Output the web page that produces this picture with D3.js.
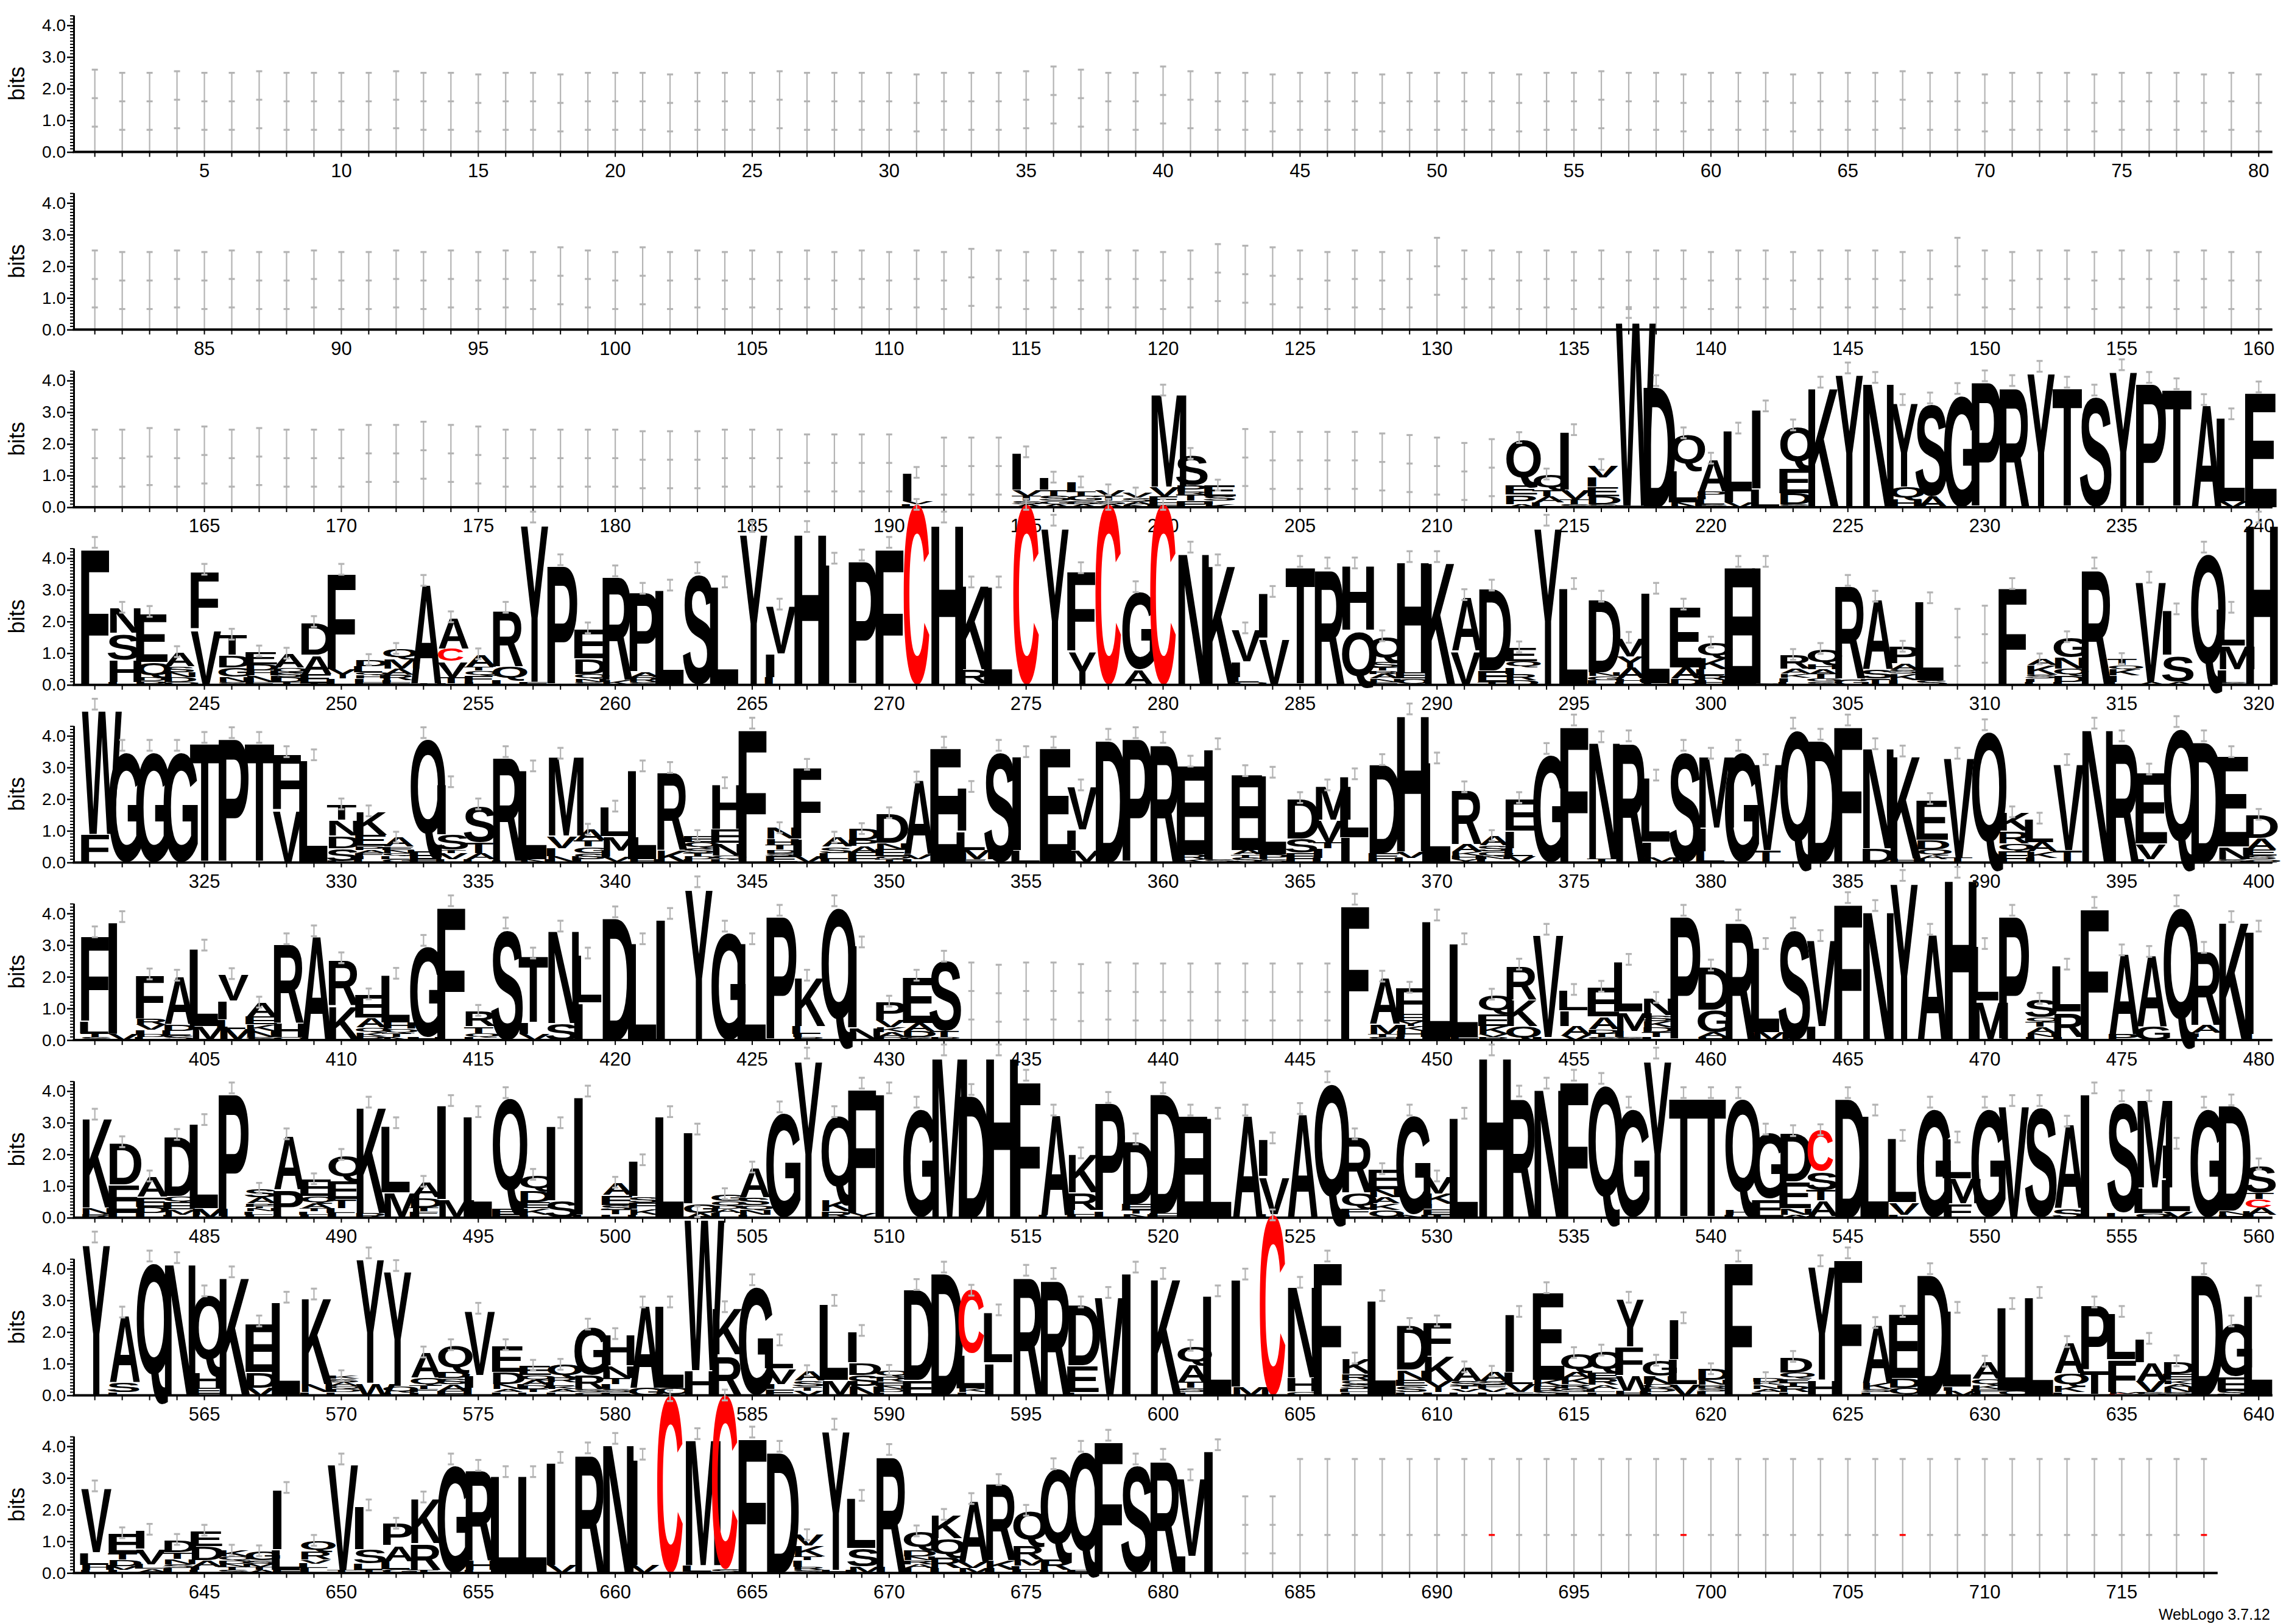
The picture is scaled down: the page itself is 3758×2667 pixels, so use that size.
<!DOCTYPE html>
<html>
<head>
<meta charset="utf-8">
<script src="https://cdn.jsdelivr.net/npm/d3@7"></script>
<style>
  body { margin: 0; background: #fff; }
  text { font-family: "Liberation Sans", Arial, sans-serif; }
</style>
</head>
<body>
<svg id="chart"></svg>
<script>
// Sequence logo, 718 positions in 9 lines of 80 stacks.
// Stacks are written bottom -> top as "<letter><bits>".
// "|top" is an empty column (error bar only), "|top@mid" gives its middle mark too, a trailing "r" marks it red.

const rowStarts = [1, 81, 161, 241, 321, 401, 481, 561, 641];
const yTicks = [0, 1, 2, 3, 4];

// lines 1 and 2 only have empty columns: top of the error bar, in bits
const row1Tops = [2.6, 2.5, 2.5, 2.55, 2.5, 2.5, 2.55, 2.5, 2.5, 2.5, 2.5, 2.55, 2.5, 2.5, 2.45, 2.5, 2.5, 2.45, 2.5, 2.5,
  2.5, 2.45, 2.5, 2.5, 2.5, 2.55, 2.5, 2.5, 2.5, 2.5, 2.45, 2.5, 2.5, 2.5, 2.55, 2.7, 2.6, 2.5, 2.5, 2.7,
  2.55, 2.5, 2.5, 2.45, 2.5, 2.5, 2.5, 2.45, 2.5, 2.5, 2.5, 2.5, 2.45, 2.5, 2.5, 2.55, 2.5, 2.5, 2.45, 2.5,
  2.5, 2.5, 2.45, 2.5, 2.5, 2.5, 2.55, 2.5, 2.5, 2.45, 2.5, 2.5, 2.5, 2.45, 2.5, 2.5, 2.5, 2.45, 2.5, 2.45];
const row2Tops = [2.5, 2.45, 2.45, 2.5, 2.45, 2.5, 2.45, 2.45, 2.5, 2.45, 2.45, 2.5, 2.45, 2.5, 2.45, 2.5, 2.45, 2.6, 2.5, 2.45,
  2.6, 2.45, 2.5, 2.45, 2.5, 2.45, 2.5, 2.45, 2.5, 2.45, 2.5, 2.45, 2.55, 2.5, 2.45, 2.5, 2.45, 2.5, 2.5, 2.45,
  2.5, 2.7, 2.65, 2.6, 2.5, 2.45, 2.5, 2.45, 2.5, 2.9, 2.5, 2.5, 2.45, 2.5, 2.45, 2.5, 2.45, 2.5, 2.5, 2.45,
  2.5, 2.5, 2.45, 2.5, 2.5, 2.5, 2.45, 2.5, 2.9, 2.5, 2.45, 2.5, 2.5, 2.45, 2.5, 2.5, 2.45, 2.5, 2.45, 2.45];

const row3Stacks = [
  "|2.45", "|2.45", "|2.5", "|2.45", "|2.55", "|2.45", "|2.5", "|2.45", "|2.45", "|2.45",
  "|2.6", "|2.6", "|2.7", "|2.6", "|2.55", "|2.45", "|2.45", "|2.45", "|2.45", "|2.45",
  "|2.4", "|2.4", "|2.4", "|2.45", "|2.45", "|2.45", "|2.3", "|2.3", "|2.3", "|2.3",
  "L.1 V.1 I.9", "|2.2", "|2.2", "|2.2", "A.1 S.1 T.15 V.2 I1.2", "A.1 G.1 S.15 T.2 I.4", "A.1 S.1 G.15 T.15 I.3", "A.1 S.1 T.15 V.2",
  "N.08 A.1 S.12 V.15", "E.15 F.2 V.3 M3.05", "E.2 T.2 R.1 P.2 S1.0", "K.1 I.1 S.15 E.35",
  "|2.47", "|2.38", "|2.38", "|2.38", "|2.38", "|2.33", "|2.28", "|2.2", "|2.03", "|2.15",
  "A.1 P.3 E.3 Q1.5", "L.15 A.2 T.2 Q.5", "S.1 T.15 V.3 I1.9", "S.1 D.25 E.3 I.3 V.4", "F.05 W6.1",
  "D4.0", "N.15 L1.05 Q1.15", "S.1 L.15 I.1 P.15 A1.05", "V.15 I.35 L2.0", "L.6 I2.6",
  "S.1 D.35 E.8 Q1.35", "K3.95", "Y4.4", "N4.1", "H.25 Q.4 Y2.75", "A.35 S3.1", "G3.75", "P4.15",
  "R4.0", "Y4.45", "T3.95", "S3.7", "Y4.5", "P4.1", "T3.9", "A3.4", "V.2 L2.75", "E3.8"
];

const row4Stacks = [
  "F4.5", "I.1 H.7 S.85 N.8", "P.12 D.12 Q.48 E1.6", "Q.1 D.15 N.15 S.2 A.45", "V1.8 F1.85",
  "S.1 N.15 G.3 D.4 T.65", "F.1 N.2 H.15 D.2 E.42", "T.1 D.15 S.15 Q.15 A.45", "T.05 E.3 A.6 D1.05", "L.2 Y.3 F3.15",
  "F.1 I.1 H.1 Q.1 L.2 D.2", "F.1 I.05 R.17 A.2 M.3 Q.33", "T.05 A3.25", "I.05 T.2 V.5 C.4 A1.0", "I.1 F.2 Q.15 T.13 A.4",
  "I.15 Q.45 R1.85", "F.1 Y5.2", "P3.95", "S.1 N.1 Q.15 D.5 E.95", "K.15 R3.45",
  "S.1 R.15 A.15 P2.65", "L3.15", "S3.7", "L3.25", "Y5.0",
  "L.25 I.75 V1.55", "H5.0", "I4.0", "P4.1", "F4.5",
  "C5.7", "H5.3", "I.05 R.45 K2.75", "L3.25", "C5.7",
  "Y5.2", "Y1.1 F2.6", "C5.7", "A.5 G2.6", "C5.7",
  "N4.35", "K3.95", "Q.1 L.15 I.5 V1.05", "V1.5 I1.45", "T3.9",
  "R3.85", "Q1.75 H2.1", "E.1 N.1 A.15 R.1 T.1 S.2 Q.8", "Q.2 E.2 H3.65", "K4.05",
  "V1.1 A1.75", "T.1 E.35 D2.7", "D.15 R.2 I.2 Q.2 E.45", "Y5.2", "L3.2",
  "I.15 G.13 N.12 D2.4", "I.1 H.1 A.35 Y.35 V.6", "H.05 L3.0", "D.2 A.35 E2.0", "H.15 R.15 L.2 K.35 Q.5",
  "E3.9", "S.05 I3.85", "L.1 I.13 K.13 A.15 R.45", "S.1 G.1 T.15 A.15 H.15 Q.5", "G.2 R3.1",
  "T.2 S.3 A2.3", "I.15 K.2 S.12 A.2 P.55", "S.15 L2.6", "|2.4", "|2.5",
  "F3.2", "L.1 I.1 S.12 K.3 A.2", "I.1 D.2 Q.22 N.35 G.65", "R3.85", "L.1 I.2 K.2 Q.13 T.2",
  "A.1 V3.3", "A.1 S.85 I1.45", "Q4.35", "S.1 I.4 M.75 L1.2", "H5.3"
];

const row5Stacks = [
  "F.9 W4.1", "G3.7", "G3.7", "G3.7", "T3.95", "P4.1", "T3.95", "V1.7 F1.8", "L3.4", "I.05 S.4 D.4 N.5 T.5",
  "L.1 I.1 F.1 A.1 P.13 E.35 K.75", "G.1 L.1 Q.1 N.1 E.1 A.3", "F.1 E.25 Q3.75", "L.1 V.2 T.1 S.5 I1.65", "L.1 A.2 T.35 S1.2",
  "I.05 R3.45", "N.1 L2.95", "N.2 I.25 V.4 M2.6", "L.1 S.2 G.2 T.2 A.35", "C.03 V.15 I.2 M.45 L.95",
  "H.1 L2.95", "K.4 R2.6", "I.1 D.1 T.1 S.15 Q.2 E.2", "I.1 Q.12 N.4 E.45 H1.45", "F4.4",
  "E.2 S.1 D.1 T.15 H.2 N.35", "V.2 I.55 F2.35", "I.1 L.2 S.2 A.3", "I.1 E.22 A.2 P.2 D.35", "T.1 Q.1 E.22 N.2 D.95",
  "I.1 V.15 A2.45", "E3.8", "F.1 M.3 L.6 I1.4", "S3.7", "L.4 I3.1",
  "E3.8", "M.4 I.65 V1.4", "D4.05", "P4.1", "R3.95",
  "K.1 R.15 E2.95", "S.1 I3.65", "S.15 T.1 A.15 E2.5", "S.1 P.15 L2.6", "I.1 E.2 S.45 D1.3",
  "L.15 I.3 T.2 V.7 M1.1", "I.8 L2.0", "I.1 E.2 D2.95", "L.15 V.2 H4.5", "L3.3",
  "Y.1 H.12 K.12 A.25 R1.8", "L.1 N.1 Q.15 S.2 A.3", "V.2 L.25 I.55 E1.05", "G3.6", "F4.5",
  "T.12 N3.85", "R4.0", "M.16 I.5 L2.1", "S3.7", "L.35 I.75 M2.35",
  "G3.7", "T.4 V2.85", "Q4.4", "D4.05", "F4.5",
  "D.45 N3.3", "H.12 K3.4", "I.1 A.12 Q.2 D.3 E1.3", "T.15 V3.3", "Q4.35",
  "I.1 E.25 Q.25 R.4 K.6", "I.15 K.2 A.3 L.75", "T.4 V2.85", "N4.4", "R4.0",
  "I.1 V.5 E2.35", "Q4.45", "D4.0", "S.1 N.4 E3.0", "Q.1 S.12 E.2 A.35 D.75"
];

const row6Stacks = [
  "S.1 T.12 L.4 F2.8", "V.2 I3.7", "L.1 D.1 I.12 V.17 R.2 F1.4", "S.15 L.15 D.2 A1.55", "M.45 L2.55",
  "M.35 L.3 I.6 V.85", "S.1 N.2 K.2 E.25 A.45", "Q.1 H.45 R2.65", "A3.45", "K1.1 R1.5",
  "P.12 K.13 Q.16 A.3 E.75", "N.1 T.13 Q.13 H.2 L1.55", "H.1 G3.05", "F4.4", "I.1 Q.12 T.22 R.5",
  "S3.7", "V.2 I.35 T2.2", "S.55 N3.05", "I1.2 L1.55", "D4.05",
  "L3.2", "I4.0", "Y5.0", "G3.6", "L3.2",
  "P4.1", "R.1 I.1 L.25 K1.6", "Q4.4", "N.4 I2.7", "D.1 A.15 K.15 V.23 P.6",
  "S.1 D.2 A.25 E1.5", "R.1 T.2 S2.35",
  "|2.45", "|2.38", "|2.45", "|2.45", "|2.4", "|2.45", "|2.42", "|2.42", "|2.42", "|2.42", "|2.42", "|2.42", "|2.42", "|2.42",
  "F4.45", "S.1 T.1 M.32 A1.5", "I.1 H.2 K.15 Y.15 E.22 F.85", "L3.95", "F.1 L3.1",
  "R.1 V.1 K.25 E.4 Q.6", "Q.45 K.85 R1.1", "I.1 V3.4", "V.15 A.3 I.5 L.65", "S.1 T.12 D.13 A.4 E.95",
  "S.1 I.2 M.6 L1.65", "I.1 T.15 D.15 K.2 S.2 N.55", "P4.1", "H.1 A.15 G.72 D1.4", "R3.95",
  "M.25 L2.8", "S3.7", "I.45 V2.85", "F4.5", "N4.25",
  "Y5.2", "A3.5", "H5.3", "M1.25 L1.8", "P4.1",
  "I.1 N.12 A.2 T.15 Q.15 S.6", "I.1 R.8 L1.5", "F4.35", "P.2 A2.65", "G.45 A2.35",
  "Q4.4", "L.1 I.13 A.25 R2.45", "K3.9", "L.2 I3.4"
];

const row7Stacks = [
  "R.12 N.2 K2.95", "I.15 E.9 D1.35", "I.15 D.2 E.32 A.65", "I.1 M.16 E.22 Q.2 D1.95", "M.3 L2.8",
  "P4.1", "I.1 L.1 N.1 T.05 P.1 A.2 S.28", "I.05 P.85 A1.75", "I.1 L.1 T.1 A.16 Q.22 E.55", "I.15 L.15 T.3 E.6 Q.8",
  "R.15 K3.5", "M.8 L2.2", "I.1 F.1 T.13 D.32 A.5", "M.6 I3.1", "L3.35",
  "F.1 E.2 Q3.65", "I.1 K.2 E.2 D.35 Q.52", "S.55 I2.45", "L.1 I3.9", "I.1 T.15 S.15 E.32 A.4",
  "L.1 K.18 F.2 S.2 I1.15", "L3.35", "A.15 G.3 I2.35", "I.15 A.13 D.1 Q.16 G.22", "I.1 N.15 Q.15 S.25 A.95",
  "G3.5", "Y5.2", "R.2 K.35 Q2.8", "Y.15 F4.1", "I4.1",
  "G3.65", "M5.3", "D4.05", "H5.3", "F4.5",
  "L.1 A3.3", "I.1 L.15 R.55 K1.25", "I.2 P3.6", "N.12 T.12 E.2 D2.05", "E.15 D3.95",
  "E3.4", "L3.3", "A3.4", "L.12 V1.2 I1.2", "A3.45",
  "Q4.45", "I.1 F.2 Q.5 R1.85", "Q.25 K.2 A.2 N.25 E.65", "N.1 G3.3", "T.1 E.18 I.16 K.33 V.55",
  "L3.3", "H5.3", "R4.0", "N4.25", "F4.5",
  "Q4.4", "G3.65", "Y5.2", "T3.95", "T3.95",
  "I.1 H.15 Q3.7", "E.6 G2.2", "A.1 N.2 E.85 D1.6", "I.05 A.5 T.33 S.6 C1.3", "D3.95",
  "L3.4", "I.1 V.4 L2.1", "G3.65", "F.45 M.8 L1.3", "G3.65",
  "V3.7", "S3.7", "S.3 A2.75", "I4.1", "L.15 S3.7",
  "Q.15 L.8 M2.9", "V.2 L1.05 I1.1", "G3.65", "H.1 N.12 D3.5", "I.1 A.22 C.26 T.22 S.9"
];

const row8Stacks = [
  "Y5.0", "I.1 S.33 A2.2", "Q4.4", "N4.35", "I.05 E.2 H.5 Q2.55",
  "K3.9", "V.25 D.5 E1.6", "L3.1", "I.1 N.25 K2.85", "L.1 D.1 Q.1 A.12 S.1 K.1",
  "W.4 Y4.1", "I.1 Q.2 Y3.8", "I.1 F.1 T.12 Q.25 A.8", "F.15 A.2 S.2 D.2 Q.85", "L.25 I.4 V2.1",
  "I.1 A.1 N.15 D.4 E.85", "L.1 T.1 D.13 A.16 Q.16 E.3", "I.1 A.1 K.1 L.12 R.16 Q.4", "Q.1 S.1 R.45 G1.6", "E.1 S.1 I.15 T.2 N.4 H1.0",
  "G.25 A2.7", "Q.25 L2.7", "H.8 W5.0", "R1.3 K1.5", "G3.65",
  "F.2 I.15 V.5 L.9", "V.15 T.13 S.2 A.3", "M.5 L2.5", "N.3 S.35 D.4 I1.0", "I.1 D.1 N.1 E.13 R.16 Q.2",
  "E.5 D3.0", "D4.05", "I.1 K.12 L1.1 C2.0", "I1.05 L1.65", "R3.95",
  "R3.85", "L.1 E.85 D2.0", "V3.25", "I4.05", "K3.85",
  "I.1 S.13 T.2 A.55 Q.6", "L3.3", "M.28 I3.55", "C5.7", "Q.12 H.45 N3.0",
  "F4.4", "I.1 L.1 S.15 Q.13 R.2 K.5", "L3.15", "I.1 S.2 E.2 N.32 D1.45", "I.1 Y.35 K.8 F1.1",
  "L.1 V.1 T.1 S.15 A.45", "I.1 V.12 F.12 S.12 A.3", "F.1 V.25 L.4 I1.9", "S.15 R.15 K.2 E2.9", "I.1 S.12 R.13 K.2 A.2 Q.6",
  "I.1 L.1 A.13 R.2 E.2 Q.7", "H.15 W.5 F.9 Y1.55", "I.1 D.13 Q.13 N.25 G.5", "V.35 L.8 I1.3", "C.03 I.1 S.1 R.1 N.16 D.35",
  "F4.4", "I.1 A.1 N.13 K.1 D.13", "I.1 R.2 T.1 E.13 Q.2 D.5", "H.5 Y3.75", "F4.5",
  "I.1 S.1 K.2 A1.9", "Q.25 D.3 E2.1", "D4.0", "M.15 I.13 L2.5", "I.1 E.1 K.13 Q.2 A.55",
  "Q.15 L2.75", "L3.25", "I.1 K.2 Q.4 A1.0", "C.03 T.77 P2.15", "C.05 M.05 F1.05 L1.5",
  "S.1 V.35 A.6 I.75", "S.1 N.16 A.1 K.13 E.2 D.4", "D4.0", "S.15 E.45 G1.75", "L3.3"
];

const row9Stacks = [
  "I.1 H.15 L.4 V2.1", "I.1 V.12 D.2 T.2 E.65", "C.03 A.1 L.15 V.5 I.6", "I.15 S.13 N.16 T.22 D.4", "L.1 I.1 A.2 D.45 E.5",
  "S.1 T.1 N.1 D.1 Q.12 K.2", "A.1 T.1 V.1 S.1 G.3", "F.1 L.65 I1.95", "I.15 L.15 V.13 R.25 Q.35", "T.1 V3.5",
  "T.1 L.2 S.45 I1.4", "G.12 L.25 A.5 P.7", "T.1 R.85 K1.45", "G3.6", "I.1 H.3 R3.0",
  "L3.2", "L3.2", "V.25 I3.4", "R3.95", "N4.25",
  "V.25 I3.5", "C5.6", "S.05 L.2 M4.15", "S.12 C5.5", "F4.45",
  "D4.0", "S.1 R.1 I.2 T.13 K.33 V.35", "H.1 Y4.6", "M.2 S.6 L1.65", "R3.9",
  "I.15 A.12 R.13 N.13 D.2 Q.6", "I.15 R.35 Q.6 K.75", "M.15 V.2 A2.0", "I.1 K.3 R2.55", "I.1 L.13 M.2 R.45 Q1.1",
  "I.1 R.35 Q3.0", "F.1 Q3.9", "F4.35", "S3.6", "R3.75",
  "I.55 V2.55", "I4.05",
  "|2.42", "|2.42", "|3.6@1.2", "|3.6@1.2", "|3.6@1.2", "|3.6@1.2", "|3.6@1.2", "|3.6@1.2", "|3.6@1.2", "|3.6@1.2r",
  "|3.6@1.2", "|3.6@1.2", "|3.6@1.2", "|3.6@1.2", "|3.6@1.2", "|3.6@1.2", "|3.6@1.2r", "|3.6@1.2", "|3.6@1.2", "|3.6@1.2",
  "|3.6@1.2", "|3.6@1.2", "|3.6@1.2", "|3.6@1.2", "|3.6@1.2r", "|3.6@1.2", "|3.6@1.2", "|3.6@1.2", "|3.6@1.2", "|3.6@1.2",
  "|3.6@1.2", "|3.6@1.2", "|3.6@1.2", "|3.6@1.2", "|3.6@1.2", "|3.6@1.2r"
];

const rows = [row1Tops.map(v => "|" + v), row2Tops.map(v => "|" + v), row3Stacks, row4Stacks,
  row5Stacks, row6Stacks, row7Stacks, row8Stacks, row9Stacks];

// ---- layout ----
const W = 3758, H = 2667;
const firstAxisY = 249.6, rowStep = 291.7;
const bitPx = 52, yMax = 4.32;
const plotLeft = 133.2, colW = 44.97, spineX = 121;
const letterFill = 0.94;
const errColor = '#b4b4b4';

function parseStack(s) {
  if (s[0] === '|') {
    const red = s.endsWith('r');
    const [top, mid] = s.slice(1).replace('r', '').split('@').map(Number);
    return { gap: top, mid: mid === undefined ? top - 0.9 : mid, red, letters: [] };
  }
  return {
    letters: s.trim().split(/\s+/).map(t => ({ ch: t[0], bits: +t.slice(1) }))
  };
}

// logo glyphs: a monospaced sans face, stretched to fill each box
// (C takes the proportional face, whose open mouth reads better once squeezed)
const monoFamily = '"DejaVu Sans Mono"';
const sansFamily = '"Liberation Sans"';
const familyFor = ch => ch === 'C' ? sansFamily : monoFamily;
const ctx = document.createElement('canvas').getContext('2d');
const glyphCache = {};
function glyph(ch) {
  if (!glyphCache[ch]) {
    ctx.font = 'bold 100px ' + familyFor(ch);
    const m = ctx.measureText(ch);
    glyphCache[ch] = {
      l: m.actualBoundingBoxLeft, r: m.actualBoundingBoxRight,
      a: m.actualBoundingBoxAscent, d: m.actualBoundingBoxDescent
    };
  }
  return glyphCache[ch];
}

function draw() {
  const svg = d3.select('#chart').attr('width', W).attr('height', H);
  svg.append('rect').attr('width', W).attr('height', H).attr('fill', '#fff');

  rows.forEach((stacks, r) => {
    const start = rowStarts[r];
    const positions = d3.range(start, start + stacks.length);
    const axisY = firstAxisY + r * rowStep;
    const x = d3.scaleBand().domain(positions).range([plotLeft, plotLeft + stacks.length * colW]);
    const y = d3.scaleLinear().domain([0, yMax]).range([axisY, axisY - yMax * bitPx]);
    const g = svg.append('g');
    const data = stacks.map((s, i) => ({ pos: positions[i], ...parseStack(s) }));

    // letters
    const lg = g.append('g');
    data.forEach(col => {
      let base = 0;
      const w = x.bandwidth() * letterFill;
      const xl = x(col.pos) + (x.bandwidth() - w) / 2;
      col.letters.forEach(L => {
        const yb = y(base), yt = y(base + L.bits);
        const h = yb - yt;
        base += L.bits;
        if (h < 0.3) return;
        const m = glyph(L.ch);
        const sx = w / (m.l + m.r), sy = h / (m.a + m.d);
        lg.append('text')
          .attr('transform', `translate(${xl + m.l * sx},${yb - m.d * sy}) scale(${sx},${sy})`)
          .attr('font-size', 100)
          .attr('font-family', familyFor(L.ch))
          .attr('font-weight', 'bold')
          .attr('fill', L.ch === 'C' ? '#ff0000' : '#000')
          .text(L.ch);
      });
      col.total = base;
    });

    // error bars
    const eg = g.append('g').attr('stroke', errColor);
    data.forEach(col => {
      const cx = x(col.pos) + x.bandwidth() / 2;
      let lo, hi, marks;
      if (col.letters.length === 0) {
        hi = col.gap; lo = 0;
        const low = 2 * col.mid - col.gap;
        marks = [col.gap, col.mid].concat(low > 0 ? [low] : []);
      } else {
        hi = col.total + 0.17; lo = Math.max(0, col.total - 0.17);
        marks = [hi, lo];
      }
      eg.append('line').attr('x1', cx).attr('x2', cx).attr('y1', y(lo)).attr('y2', y(hi))
        .attr('stroke-width', 2.2);
      marks.forEach((v, k) => {
        eg.append('line').attr('x1', cx - 5).attr('x2', cx + 5).attr('y1', y(v)).attr('y2', y(v))
          .attr('stroke', col.red && k === 1 ? '#ff0000' : null)
          .attr('stroke-width', 3.2);
      });
    });

    // x axis
    const xAxis = d3.axisBottom(x).tickSize(8).tickSizeOuter(0)
      .tickFormat(d => d % 5 === 0 ? d : '');
    const xg = g.append('g').attr('transform', `translate(0,${axisY})`).call(xAxis);
    xg.select('.domain').remove();
    xg.selectAll('.tick line').attr('stroke', '#000').attr('stroke-width', 2);
    xg.selectAll('.tick text').attr('font-size', 31).attr('y', 12).attr('dy', '0.95em')
      .attr('fill', '#000').attr('font-family', '"Liberation Sans", Arial, sans-serif');
    g.append('line').attr('x1', spineX - 1.5).attr('x2', x.range()[1])
      .attr('y1', axisY).attr('y2', axisY).attr('stroke', '#000').attr('stroke-width', 4);

    // y axis
    const yAxis = d3.axisLeft(y).tickValues(yTicks).tickSize(11).tickSizeOuter(0)
      .tickFormat(d3.format('.1f'));
    const yg = g.append('g').attr('transform', `translate(${spineX},0)`).call(yAxis);
    yg.select('.domain').attr('stroke-width', 3);
    yg.selectAll('.tick line').attr('stroke-width', 2.5);
    yg.selectAll('.tick text').attr('font-size', 28).attr('x', -13)
      .attr('font-family', '"Liberation Sans", Arial, sans-serif');
    const minor = d3.range(1, 44).map(k => k / 10).filter(v => Math.abs(v - Math.round(v)) > 0.01);
    yg.selectAll('.minor').data(minor).join('line')
      .attr('x1', -6).attr('x2', 0).attr('y1', d => y(d)).attr('y2', d => y(d))
      .attr('stroke', '#000').attr('stroke-width', 2);

    g.append('text')
      .attr('transform', `translate(40,${y(yMax / 2)}) rotate(-90)`)
      .attr('text-anchor', 'middle')
      .attr('font-size', 36)
      .text('bits');
  });

  svg.append('text')
    .attr('x', 3727).attr('y', 2660)
    .attr('text-anchor', 'end')
    .attr('font-size', 25)
    .text('WebLogo 3.7.12');
}

if (document.fonts && document.fonts.load) {
  Promise.all([document.fonts.load('bold 100px ' + monoFamily), document.fonts.load('bold 100px ' + sansFamily)])
    .then(draw, draw);
} else {
  draw();
}
</script>
</body>
</html>
